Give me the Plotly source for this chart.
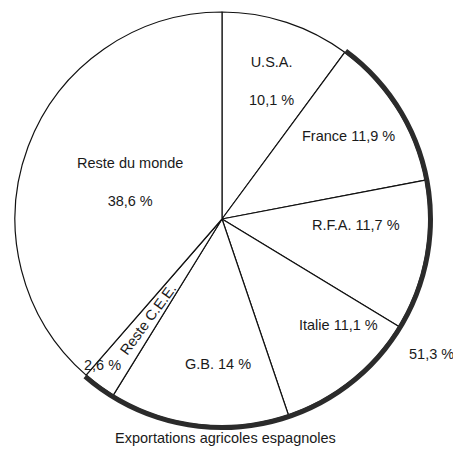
import math
import plotly.graph_objects as go

# ---- data ----
labels = ["U.S.A.", "France", "R.F.A.", "Italie", "G.B.", "Reste C.E.E.", "Reste du monde"]
values = [10.1, 11.9, 11.7, 11.1, 14.0, 2.6, 38.6]
value_texts = ["10,1 %", "11,9 %", "11,7 %", "11,1 %", "14 %", "2,6 %", "38,6 %"]
cee_members = ["France", "R.F.A.", "Italie", "G.B.", "Reste C.E.E."]
cee_total_text = "51,3 %"
title_text = "Exportations agricoles espagnoles"

# ---- geometry / style ----
PAGE_MARGIN = 8                     # default <body> margin of the html page
W, H = 461 - PAGE_MARGIN, 459 - PAGE_MARGIN
CX, CY, R = 222 - PAGE_MARGIN, 219 - PAGE_MARGIN, 207   # pie centre / radius (px)
RING_OUT, RING_IN = 211, 206                            # thick CEE arc
FONT = dict(family="Liberation Sans, Arial, sans-serif", size=14.5, color="#1a1a1a")

# label placement style: (angle offset from slice middle in degrees, radial fraction)
label_style = [(1.7, 0.71), (-1.2, 0.73), (-7.8, 0.65), (-8.9, 0.76), (-4.9, 0.70),
               (0.0, 0.60), (1.2, 0.48)]
small_value_style = (3.0, 0.91)
total_label_style = (122.8, 1.205)

def clamp(v):
    return max(0.0, min(1.0, v))

def domain(r):
    return dict(x=[clamp((CX - r) / W), clamp((CX + r) / W)],
                y=[clamp(1 - (CY + r) / H), clamp(1 - (CY - r) / H)])

def to_paper(angle_deg, frac):
    a = math.radians(angle_deg)
    sx = CX + R * frac * math.sin(a)
    sy = CY - R * frac * math.cos(a)
    return sx / W, 1 - sy / H

total = sum(values)
cum = 0
mids = []
for v in values:
    mids.append((cum + v / 2) / total * 360)
    cum += v

fig = go.Figure()
fig.add_trace(go.Pie(
    values=values, labels=labels, sort=False, direction="clockwise", rotation=0,
    marker=dict(colors=["white"] * len(values), line=dict(color="#111", width=1.2)),
    textinfo="none", hoverinfo="label+value", showlegend=False, domain=domain(R),
))

cee_sum = sum(v for l, v in zip(labels, values) if l in cee_members)
before = values[0]
after = total - before - cee_sum
fig.add_trace(go.Pie(
    values=[before, cee_sum, after], sort=False, direction="clockwise", rotation=0,
    hole=RING_IN / RING_OUT,
    marker=dict(colors=["rgba(0,0,0,0)", "#2b2b2b", "rgba(0,0,0,0)"], line=dict(width=0)),
    textinfo="none", hoverinfo="skip", showlegend=False, domain=domain(RING_OUT),
))

def ann(x, y, text, **kw):
    d = dict(x=x, y=y, text=text, showarrow=False, xref="paper", yref="paper",
             xanchor="center", yanchor="middle", font=FONT)
    d.update(kw)
    return d

annotations = []
for i, (lab, vt) in enumerate(zip(labels, value_texts)):
    off, frac = label_style[i]
    if lab == "Reste C.E.E.":
        x, y = to_paper(mids[i] + off, frac)
        annotations.append(ann(x, y, lab, textangle=-(90 - (mids[i] - 180))))
        x, y = to_paper(mids[i] + small_value_style[0], small_value_style[1])
        annotations.append(ann(x, y, vt))
        continue
    if lab in ("U.S.A.", "Reste du monde"):
        txt = f"{lab}<br><br>{vt}"
    else:
        txt = f"{lab} {vt}"
    x, y = to_paper(mids[i] + off, frac)
    annotations.append(ann(x, y, txt))

x, y = to_paper(*total_label_style)
annotations.append(ann(x, y, cee_total_text))
annotations.append(ann((225 - PAGE_MARGIN) / W, 1 - (438 - PAGE_MARGIN) / H, title_text))

fig.update_layout(
    width=W, height=H, margin=dict(l=0, r=0, t=0, b=0),
    paper_bgcolor="white", plot_bgcolor="white",
    annotations=annotations,
)
fig.write_html("out.html")
